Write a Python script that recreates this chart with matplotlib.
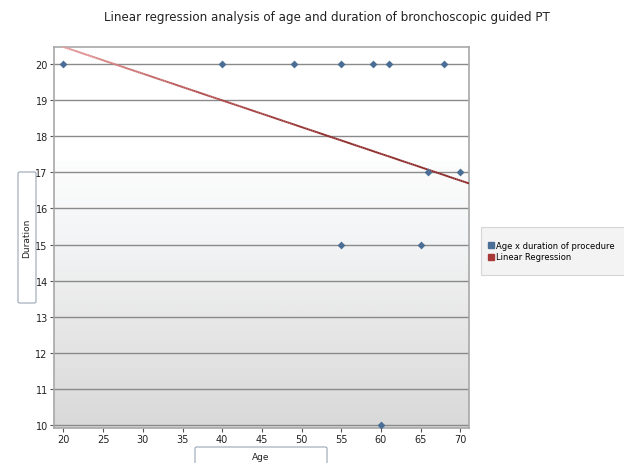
import matplotlib
matplotlib.use("Agg")
import matplotlib.pyplot as plt
import numpy as np
from matplotlib.collections import LineCollection
from matplotlib.colors import LinearSegmentedColormap
from matplotlib.patches import FancyBboxPatch
from matplotlib.lines import Line2D

# age and procedure duration for each patient
age = [20, 40, 49, 55, 59, 61, 68, 55, 65, 66, 70, 60]
duration = [20, 20, 20, 20, 20, 20, 20, 15, 15, 17, 17, 10]

x_ticks = [20, 25, 30, 35, 40, 45, 50, 55, 60, 65, 70]
y_ticks = [10, 11, 12, 13, 14, 15, 16, 17, 18, 19, 20]

title = "Linear regression analysis of age and duration of bronchoscopic guided PT"
series_names = ["Age x duration of procedure", "Linear Regression"]

point_color = "#4b6e96"
line_dark = "#8e2a2a"
line_light = "#eaa0a0"

fig = plt.figure(figsize=(6.24, 4.64), dpi=100)
ax = fig.add_axes([0.0865, 0.0754, 0.665, 0.822])

xmin, xmax = 18.8, 71.1
ymin, ymax = 9.92, 20.48
ax.set_xlim(xmin, xmax)
ax.set_ylim(ymin, ymax)

# plot area background: white top band, then a soft grey fade to the bottom
t = np.linspace(0, 1, 400)  # 0 = bottom, 1 = top
shade = np.where(t > 0.70, 0.0, 0.08 + 0.92 * (1 - t / 0.70))
bg_cmap = LinearSegmentedColormap.from_list("bg", ["#ffffff", "#f4f5f6", "#e6e6e6", "#d9d9d9"])
ax.imshow(shade.reshape(-1, 1), cmap=bg_cmap, aspect="auto", extent=[xmin, xmax, ymin, ymax],
          origin="lower", vmin=0, vmax=1, zorder=0, interpolation="bilinear")

for y in y_ticks:
    ax.axhline(y, color="#8a8a8a", lw=1.0, zorder=1)

# least squares fit, drawn across the full x range with a colour ramp
slope, intercept = np.polyfit(age, duration, 1)
xs = np.linspace(xmin, xmax, 200)
ys = slope * xs + intercept
pts = np.column_stack([xs, ys]).reshape(-1, 1, 2)
segs = np.concatenate([pts[:-1], pts[1:]], axis=1)
line_cmap = LinearSegmentedColormap.from_list("reg", [line_light, "#b45050", line_dark, line_dark])
lc = LineCollection(segs, cmap=line_cmap, linewidth=1.4, zorder=3)
lc.set_array(np.linspace(0, 1, len(segs)))
ax.add_collection(lc)

ax.scatter(age, duration, marker="D", s=16, color=point_color, zorder=4, linewidths=0)

ax.set_xticks(x_ticks)
ax.set_yticks(y_ticks)
ax.tick_params(labelsize=7, length=3, color="#555555", labelcolor="#222222", pad=1.5)
for s in ax.spines.values():
    s.set_color("#a8a8a8")
    s.set_linewidth(1.2)

fig.text(327 / 624, 1 - 18 / 464, title, ha="center", va="center", fontsize=8.6, color="#222222")

# axis title boxes
fig.patches.append(FancyBboxPatch((18 / 624, 1 - 304 / 464), 18 / 624, 131 / 464,
                                  boxstyle="round,pad=0,rounding_size=0.003",
                                  transform=fig.transFigure, fc="white", ec="#9aa6b4", lw=0.8))
fig.text(27 / 624, 1 - 238 / 464, "Duration", rotation=90, ha="center", va="center",
         fontsize=6.5, color="#222222")
fig.patches.append(FancyBboxPatch((195 / 624, -0.01), 132 / 624, (464 - 448) / 464 + 0.01,
                                  boxstyle="round,pad=0,rounding_size=0.003",
                                  transform=fig.transFigure, fc="white", ec="#9aa6b4", lw=0.8))
fig.text(261 / 624, 1 - 458 / 464, "Age", ha="center", va="center", fontsize=6.5, color="#222222")

# legend, running off the right edge of the figure
fig.patches.append(FancyBboxPatch((481 / 624, 1 - 276 / 464), 150 / 624, 48 / 464,
                                  boxstyle="square,pad=0", transform=fig.transFigure,
                                  fc="#f3f3f3", ec="#d6d6d6", lw=0.8))
handles = [Line2D([], [], ls="none", marker="s", ms=4.2, color=point_color),
           Line2D([], [], ls="none", marker="s", ms=4.2, color="#a83838")]
leg = fig.legend(handles, series_names, loc="center left", bbox_to_anchor=(488 / 624, 1 - 252 / 464),
                 fontsize=6.0, frameon=False, handlelength=0.6, handletextpad=0.3,
                 borderpad=0, labelspacing=0.35, borderaxespad=0)

fig.savefig("out.png", dpi=100)
